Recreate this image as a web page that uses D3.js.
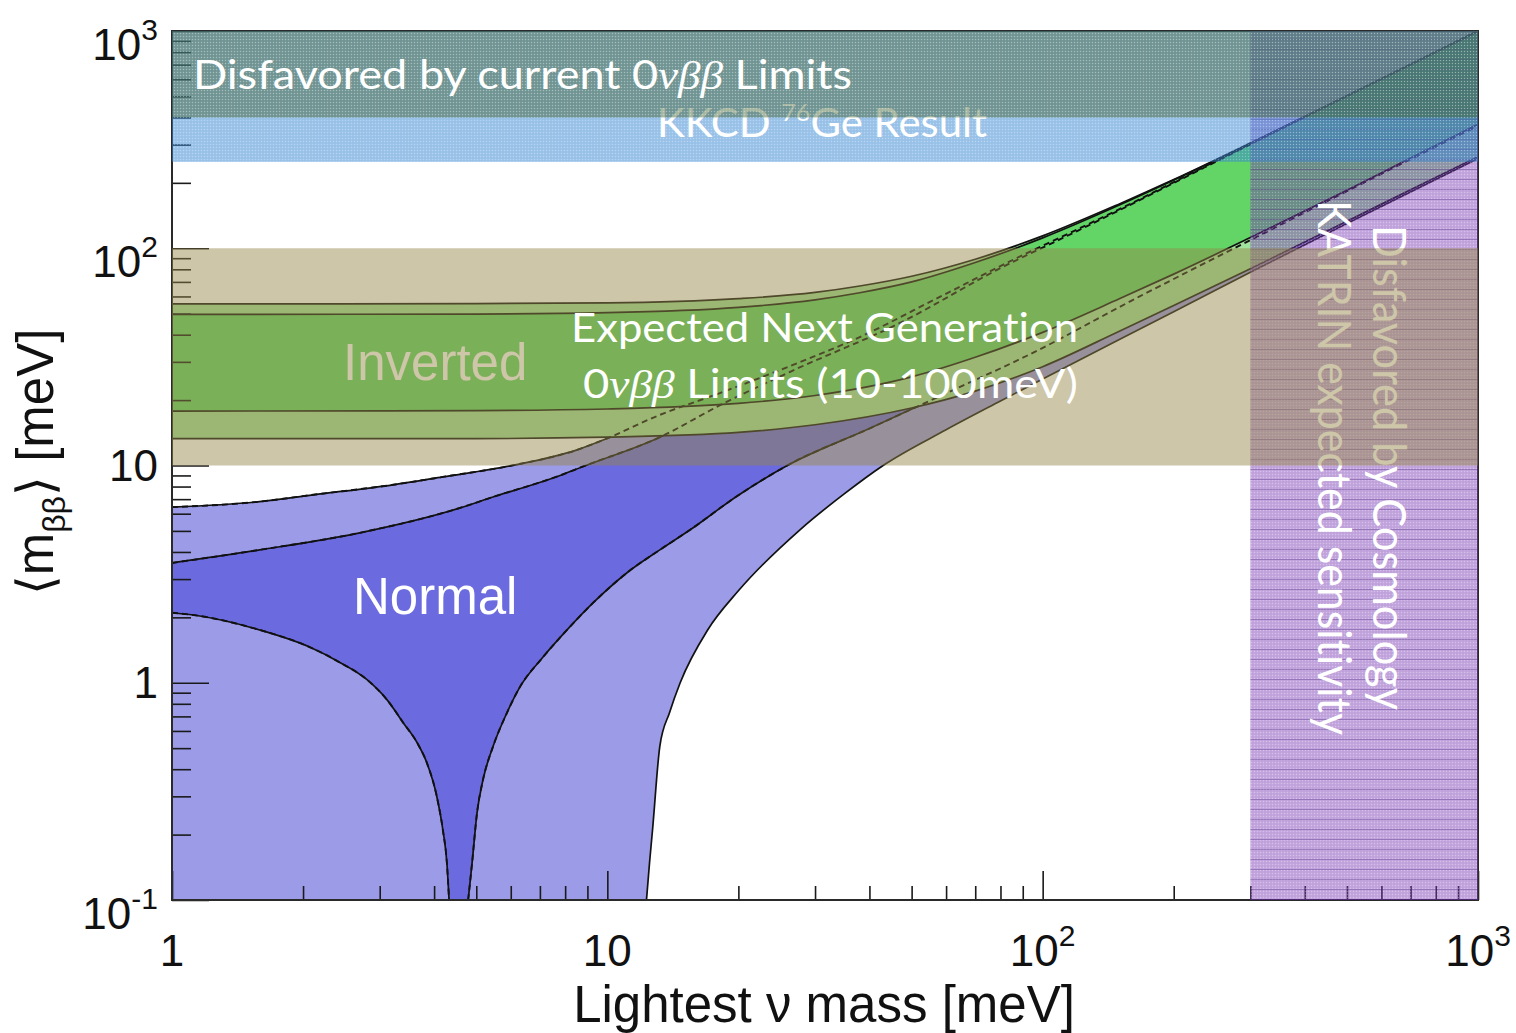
<!DOCTYPE html>
<html>
<head>
<meta charset="utf-8">
<script src="https://cdn.jsdelivr.net/npm/d3@7"></script>
<style>
  html, body { margin: 0; padding: 0; background: #ffffff; }
  svg { display: block; }
  text { font-variant-ligatures: none; font-feature-settings: "liga" 0, "clig" 0; }
</style>
</head>
<body>
<svg id="chart" width="1516" height="1033"></svg>
<script>
// Effective Majorana mass <m_bb> versus the lightest neutrino mass, both in meV.
// Each band edge is a list of [lightest mass, m_bb] pairs.

// Inverted hierarchy (outer = 3 sigma, inner = best fit)
const ihOuterTop    = [[1,55.4],[5,55.6],[10,56],[20,58.6],[30,62.6],[38,67],[50,74.3],[70,89],[100,114],[150,160],[200,207],[300,305],[500,503],[700,702],[1000,1002]];
const ihInnerTop    = [[1,49.6],[5,49.8],[10,50.5],[20,53.4],[30,57.9],[38,62.4],[50,70],[70,86],[100,111.6],[150,158],[200,206],[300,304],[500,502.5],[700,701.5],[1000,1001]];
const ihInnerBottom = [[1,17.8],[5,17.9],[10,18.2],[20,19.3],[30,21],[50,25.6],[70,31.5],[100,41],[150,58.5],[200,76],[300,112],[500,185],[700,260],[1000,372]];
const ihOuterBottom = [[1,13.3],[5,13.3],[10,13.5],[20,14.2],[30,15.4],[50,18.4],[70,22],[100,28.5],[150,41.5],[200,54.5],[300,80.5],[500,133],[700,186],[1000,264]];

// Normal hierarchy
const nhOuterTop    = [[1,6.43],[1.57,6.8],[2.11,7.33],[3.22,8.15],[4.19,8.86],[5.98,9.96],[8.52,11.8],[9.78,13.1],[13.2,17.1],[18.2,21.6],[26.3,28.7],[38,39],[58,59.7],[87,90],[120,122],[167,168],[230,232],[300,302],[500,501.5],[1000,1001]];
const nhInnerTop    = [[1,3.56],[1.59,4.09],[2.7,4.9],[4.59,6.38],[5.46,7.16],[7.79,9.0],[8.8,9.9],[13.2,13.5],[18.2,19.0],[26.3,27.0],[47,45.3],[80,81],[120,120],[167,166.5],[300,301],[1000,1000.5]];
const nhInnerBottom = [[1,2.1],[1.12,2.05],[1.59,1.75],[2.07,1.46],[2.43,1.24],[2.81,1.03],[3.12,0.834],[3.4,0.653],[3.66,0.528],[3.85,0.428],[4.06,0.298],[4.19,0.21],[4.28,0.148],[4.33,0.1],[4.4,0.05],[4.72,0.05],[4.79,0.1],[4.89,0.148],[5.02,0.252],[5.18,0.357],[5.46,0.507],[5.88,0.727],[6.3,0.957],[7.11,1.31],[8.08,1.75],[9.27,2.33],[11.1,3.21],[13.2,4.09],[15.5,5.06],[20,7.3],[25.9,10],[40,14.8],[60,21.5],[92,32],[167,60],[300,109],[600,220],[1000,366]];
const nhOuterBottom = [[1,0.05],[12.2,0.05],[12.3,0.1],[12.5,0.148],[12.7,0.21],[13.2,0.51],[13.9,0.73],[14.7,1.0],[17,1.75],[20,2.65],[27.7,5.06],[35,7.4],[43,10],[60,14.6],[80,19.8],[100,25],[150,38],[200,51],[300,77.5],[500,130],[1000,259]];

// Excluded / sensitivity regions (meV)
const currentLimitBand = [400, 1000];   // disfavored by current 0vbb limits
const kkcdBand         = [250, 1000];   // KKCD 76Ge claim
const nextGenBand      = [10, 100];     // next generation 0vbb reach
const cosmologyBand    = [300, 1000];   // lightest mass disfavored by cosmology / KATRIN

// Axis ticks
const xTickVals   = [1, 10, 100, 1000];
const xTickLabels = [["1",""],["10",""],["10","2"],["10","3"]];
const yTickVals   = [0.1, 1, 10, 100, 1000];
const yTickLabels = [["10","-1"],["1",""],["10",""],["10","2"],["10","3"]];

const plot = { left: 172, right: 1478, top: 31, bottom: 900 };

const svg = d3.select("#chart");
const x = d3.scaleLog().domain([1, 1000]).range([plot.left, plot.right]).clamp(true);
const y = d3.scaleLog().domain([0.1, 1000]).range([plot.bottom, plot.top]).clamp(true);

const rootFont = "'Liberation Sans', Arial, Helvetica, sans-serif";
const slideFont = "Lato, 'Open Sans', sans-serif";
const mathFont = "'Liberation Serif', 'DejaVu Serif', serif";

const defs = svg.append("defs");
defs.append("clipPath").attr("id", "plotClip")
  .append("rect")
  .attr("x", plot.left).attr("y", plot.top)
  .attr("width", plot.right - plot.left).attr("height", plot.bottom - plot.top);

// fine print-screen grain used on the shaded regions
const grain = defs.append("pattern").attr("id", "grain")
  .attr("width", 3).attr("height", 3).attr("patternUnits", "userSpaceOnUse");
grain.append("rect").attr("x", 0).attr("y", 0).attr("width", 1).attr("height", 1)
  .attr("fill", "#ffffff").attr("fill-opacity", 0.28);
grain.append("rect").attr("x", 1.5).attr("y", 1.5).attr("width", 1).attr("height", 1)
  .attr("fill", "#000000").attr("fill-opacity", 0.10);

// horizontal hatch of the cosmology region
const hatch = defs.append("pattern").attr("id", "hatch")
  .attr("width", 6).attr("height", 10).attr("patternUnits", "userSpaceOnUse");
hatch.append("rect").attr("x", 0).attr("y", 9).attr("width", 6).attr("height", 1)
  .attr("fill", "#4a1f7a").attr("fill-opacity", 0.35);

const line = d3.line()
  .x(d => x(d[0])).y(d => y(d[1]))
  .curve(d3.curveMonotoneX);
const edge = d3.line()
  .defined(d => d[1] >= 0.1)
  .x(d => x(d[0])).y(d => y(d[1]))
  .curve(d3.curveMonotoneX);

function bandPath(upper, lower) {
  const a = line(upper);
  const b = line(lower.slice().reverse());
  return a + "L" + b.slice(1) + "Z";
}

const data = svg.append("g").attr("clip-path", "url(#plotClip)");

// Normal hierarchy
data.append("path").attr("d", bandPath(nhOuterTop, nhOuterBottom)).attr("fill", "#9b9be8");
data.append("path").attr("d", bandPath(nhInnerTop, nhInnerBottom)).attr("fill", "#6b6bdf");
[nhOuterTop, nhInnerTop, nhInnerBottom, nhOuterBottom].forEach(c => {
  data.append("path").attr("d", edge(c)).attr("fill", "none")
    .attr("stroke", "#111").attr("stroke-width", 1.7);
});

// Inverted hierarchy
data.append("path").attr("d", bandPath(ihOuterTop, ihOuterBottom)).attr("fill", "#a2e39d");
data.append("path").attr("d", bandPath(ihInnerTop, ihInnerBottom)).attr("fill", "#63d567");
[ihOuterTop, ihInnerTop, ihInnerBottom, ihOuterBottom].forEach(c => {
  data.append("path").attr("d", edge(c)).attr("fill", "none")
    .attr("stroke", "#111").attr("stroke-width", 1.7);
});

// Normal-hierarchy edges running through the inverted band
[nhOuterTop, nhInnerTop, nhInnerBottom].forEach(c => {
  data.append("path").attr("d", edge(c)).attr("fill", "none")
    .attr("stroke", "#111").attr("stroke-width", 1.9)
    .attr("stroke-dasharray", "6,4");
});

// "Normal" label
svg.append("text").attr("x", 353).attr("y", 614)
  .attr("font-family", rootFont).attr("font-size", 51)
  .attr("fill", "#ffffff").text("Normal");

// Axes ticks (inward, ROOT style)
const minorVals = (lo, hi) => {
  const out = [];
  for (let e = Math.log10(lo); e < Math.log10(hi); e++) {
    for (let k = 2; k <= 9; k++) out.push(k * Math.pow(10, e));
  }
  return out;
};

const axes = svg.append("g");
function styleAxis(g) {
  g.select(".domain").remove();
  g.selectAll(".tick line").attr("stroke", "#1a1a1a").attr("stroke-width", 1.6);
  g.selectAll(".tick text").remove();
}
axes.append("g").attr("transform", `translate(${plot.left},0)`)
  .call(d3.axisLeft(y).tickValues(yTickVals).tickSize(-37).tickFormat(""))
  .call(styleAxis);
axes.append("g").attr("transform", `translate(${plot.left},0)`)
  .call(d3.axisLeft(y).tickValues(minorVals(0.1, 1000)).tickSize(-19).tickFormat(""))
  .call(styleAxis);
axes.append("g").attr("transform", `translate(0,${plot.bottom})`)
  .call(d3.axisBottom(x).tickValues(xTickVals).tickSize(-29).tickFormat(""))
  .call(styleAxis);
axes.append("g").attr("transform", `translate(0,${plot.bottom})`)
  .call(d3.axisBottom(x).tickValues(minorVals(1, 1000)).tickSize(-14).tickFormat(""))
  .call(styleAxis);

// Frame
svg.append("rect")
  .attr("x", plot.left).attr("y", plot.top)
  .attr("width", plot.right - plot.left).attr("height", plot.bottom - plot.top)
  .attr("fill", "none").attr("stroke", "#2a2a2a").attr("stroke-width", 2);

// ---- annotation layers ----
// Cosmology / KATRIN region
const cx0 = x(cosmologyBand[0]), cx1 = x(cosmologyBand[1]);
svg.append("rect").attr("x", cx0).attr("y", plot.top)
  .attr("width", cx1 - cx0).attr("height", plot.bottom - plot.top)
  .attr("fill", "rgb(125,60,185)").attr("fill-opacity", 0.45);
svg.append("rect").attr("x", cx0).attr("y", plot.top)
  .attr("width", cx1 - cx0).attr("height", plot.bottom - plot.top)
  .attr("fill", "url(#grain)");
svg.append("rect").attr("x", cx0).attr("y", plot.top)
  .attr("width", cx1 - cx0).attr("height", plot.bottom - plot.top)
  .attr("fill", "url(#hatch)");

svg.append("text").attr("transform", "translate(1373,225) rotate(90)")
  .attr("font-family", slideFont).attr("font-size", 47).attr("fill", "#ffffff")
  .attr("textLength", 485).attr("lengthAdjust", "spacingAndGlyphs")
  .text("Disfavored by Cosmology");
svg.append("text").attr("transform", "translate(1318,200) rotate(90)")
  .attr("font-family", slideFont).attr("font-size", 47).attr("fill", "#ffffff")
  .attr("textLength", 535).attr("lengthAdjust", "spacingAndGlyphs")
  .text("KATRIN expected sensitivity");

// KKCD claim
const ky0 = y(kkcdBand[1]), ky1 = y(kkcdBand[0]);
svg.append("rect").attr("x", plot.left).attr("y", ky0)
  .attr("width", plot.right - plot.left).attr("height", ky1 - ky0)
  .attr("fill", "rgb(60,140,215)").attr("fill-opacity", 0.5);
svg.append("rect").attr("x", plot.left).attr("y", ky0)
  .attr("width", plot.right - plot.left).attr("height", ky1 - ky0)
  .attr("fill", "url(#grain)");
const kk = svg.append("text").attr("x", 657).attr("y", 137)
  .attr("font-family", slideFont).attr("font-size", 40).attr("fill", "#ffffff")
  .attr("textLength", 330).attr("lengthAdjust", "spacingAndGlyphs");
kk.append("tspan").text("KKCD ");
kk.append("tspan").attr("font-size", 24).attr("dy", -16).text("76");
kk.append("tspan").attr("dy", 16).text("Ge Result");

// Current limits
const ly0 = y(currentLimitBand[1]), ly1 = y(currentLimitBand[0]);
svg.append("rect").attr("x", plot.left).attr("y", ly0)
  .attr("width", plot.right - plot.left).attr("height", ly1 - ly0)
  .attr("fill", "rgb(70,105,55)").attr("fill-opacity", 0.45);
svg.append("rect").attr("x", plot.left).attr("y", ly0)
  .attr("width", plot.right - plot.left).attr("height", ly1 - ly0)
  .attr("fill", "url(#grain)");
const cl = svg.append("text").attr("x", 193).attr("y", 89)
  .attr("font-family", slideFont).attr("font-size", 41).attr("fill", "#ffffff")
  .attr("textLength", 659).attr("lengthAdjust", "spacingAndGlyphs");
cl.append("tspan").text("Disfavored by current 0");
cl.append("tspan").attr("font-family", mathFont).attr("font-style", "italic").text("νββ");
cl.append("tspan").text(" Limits");

// Inverted label sits under the next-generation shading
svg.append("text").attr("x", 343).attr("y", 380)
  .attr("font-family", rootFont).attr("font-size", 51)
  .attr("fill", "#ffffff").text("Inverted");

// Next generation reach
const ny0 = y(nextGenBand[1]), ny1 = y(nextGenBand[0]);
svg.append("rect").attr("x", plot.left).attr("y", ny0)
  .attr("width", plot.right - plot.left).attr("height", ny1 - ny0)
  .attr("fill", "rgb(149,134,70)").attr("fill-opacity", 0.47);

svg.append("text").attr("x", 571).attr("y", 342)
  .attr("font-family", slideFont).attr("font-size", 40).attr("fill", "#ffffff")
  .attr("textLength", 507).attr("lengthAdjust", "spacingAndGlyphs")
  .text("Expected Next Generation");
const ng = svg.append("text").attr("x", 583).attr("y", 398)
  .attr("font-family", slideFont).attr("font-size", 40).attr("fill", "#ffffff")
  .attr("textLength", 495).attr("lengthAdjust", "spacingAndGlyphs");
ng.append("tspan").text("0");
ng.append("tspan").attr("font-family", mathFont).attr("font-style", "italic").text("νββ");
ng.append("tspan").text(" Limits (10-100meV)");

// ---- tick labels and titles ----
const lab = svg.append("g").attr("font-family", rootFont).attr("fill", "#111");
yTickVals.forEach((v, i) => {
  const [base, exp] = yTickLabels[i];
  const t = lab.append("text").attr("x", 158)
    .attr("y", y(v) + (exp ? 29 : 15))
    .attr("text-anchor", "end").attr("font-size", 44);
  t.append("tspan").text(base);
  if (exp) t.append("tspan").attr("font-size", 30).attr("dy", -20).text(exp);
});
xTickVals.forEach((v, i) => {
  const [base, exp] = xTickLabels[i];
  const t = lab.append("text").attr("x", x(v)).attr("y", 966)
    .attr("text-anchor", "middle").attr("font-size", 44);
  t.append("tspan").text(base);
  if (exp) t.append("tspan").attr("font-size", 30).attr("dy", -20).text(exp);
});

lab.append("text").attr("x", 824).attr("y", 1022)
  .attr("text-anchor", "middle").attr("font-size", 51)
  .text("Lightest ν mass [meV]");

const yt = lab.append("text").attr("transform", "translate(53,462) rotate(-90)")
  .attr("text-anchor", "middle").attr("font-size", 51);
yt.append("tspan").text("⟨m");
yt.append("tspan").attr("font-size", 32).attr("dy", 12).text("ββ");
yt.append("tspan").attr("dy", -12).text("⟩ [meV]");
</script>
</body>
</html>
